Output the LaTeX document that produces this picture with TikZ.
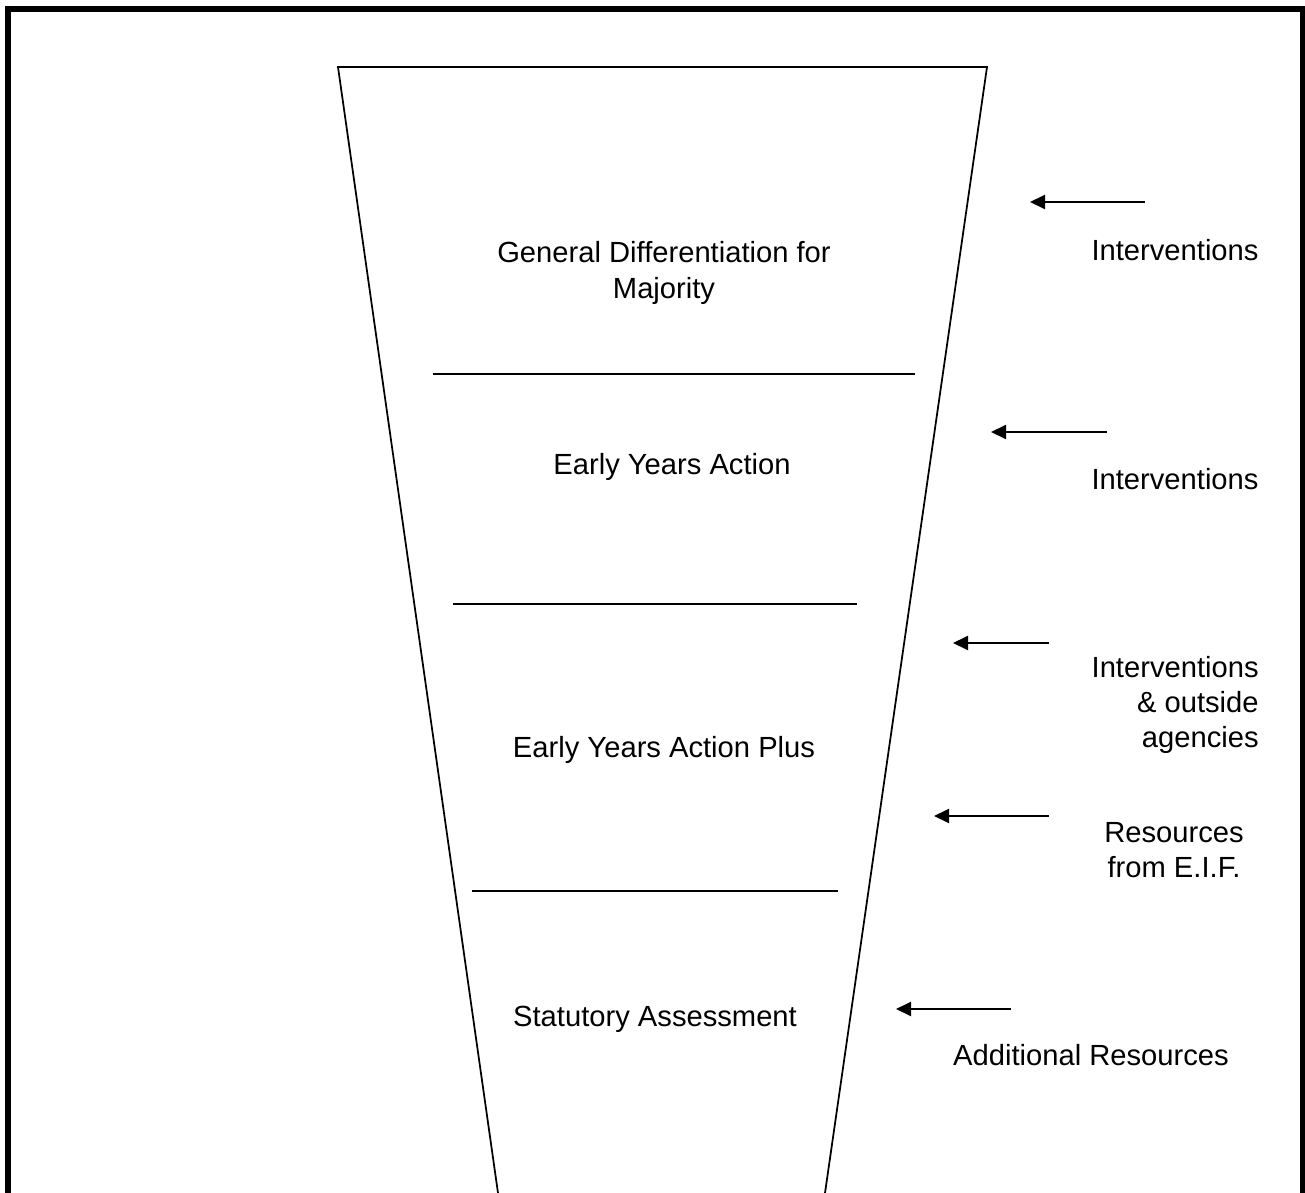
\documentclass[tikz,border=0pt]{standalone}
\usepackage{fontspec}
\setmainfont{Liberation Sans}
\usetikzlibrary{arrows.meta,positioning}

\begin{document}
\begin{tikzpicture}[x=0.02cm,y=-0.02cm,>={Triangle[length=0.3cm,width=0.28cm]},
 font=\fontsize{16.6}{20}\selectfont,
 stage/.style={align=center,inner sep=0pt},
 side/.style={align=center,inner sep=0pt},
 feed/.style={->,line width=0.04cm},
 cut/.style={line width=0.035cm}]
\useasboundingbox (0,0) rectangle (1305,1193);
\draw[line width=0.12cm] (8,1193) -- (8,9) -- (1303,9) -- (1303,1193);
% funnel, open at the bottom
\draw[cut] (498,1193) -- (338,67) -- (987,67) -- (825,1193);
\foreach \y/\xa/\xb [count=\i] in {374/433/915,604/453/857,891/472/838}
 {\coordinate (la\i) at (\xa,\y); \coordinate (lb\i) at (\xb,\y);
  \draw[cut] (la\i) -- (lb\i);}
\node[stage] (gen) at (664,273) {General Differentiation for\\Majority};
\node[stage] (eya) at (672,467) {Early Years Action};
\node[stage] (eyp) at (664,750) {Early Years Action Plus};
\node[stage] (sta) at (655,1019) {Statutory Assessment};
% inputs from the side
\node[side] (int1) at (1175,250) {Interventions};
\node[side] (int2) at (1175,479) {Interventions};
\node[side,align=right,anchor=east] (int3) at (1259,705) {Interventions\\\& outside\\agencies};
\node[side] (res) at (1174,850) {Resources\\from E.I.F.};
\node[side] (add) at (1091,1055) {Additional Resources};
\foreach \y/\xs/\xe [count=\i] in {202/1145/1030,432/1107/991,643/1049/953,816/1049/934,1009/1011/896}
 {\coordinate (s\i) at (\xs,\y); \coordinate (e\i) at (\xe,\y);
  \draw[feed] (s\i) -- (e\i);}
\end{tikzpicture}
\end{document}
